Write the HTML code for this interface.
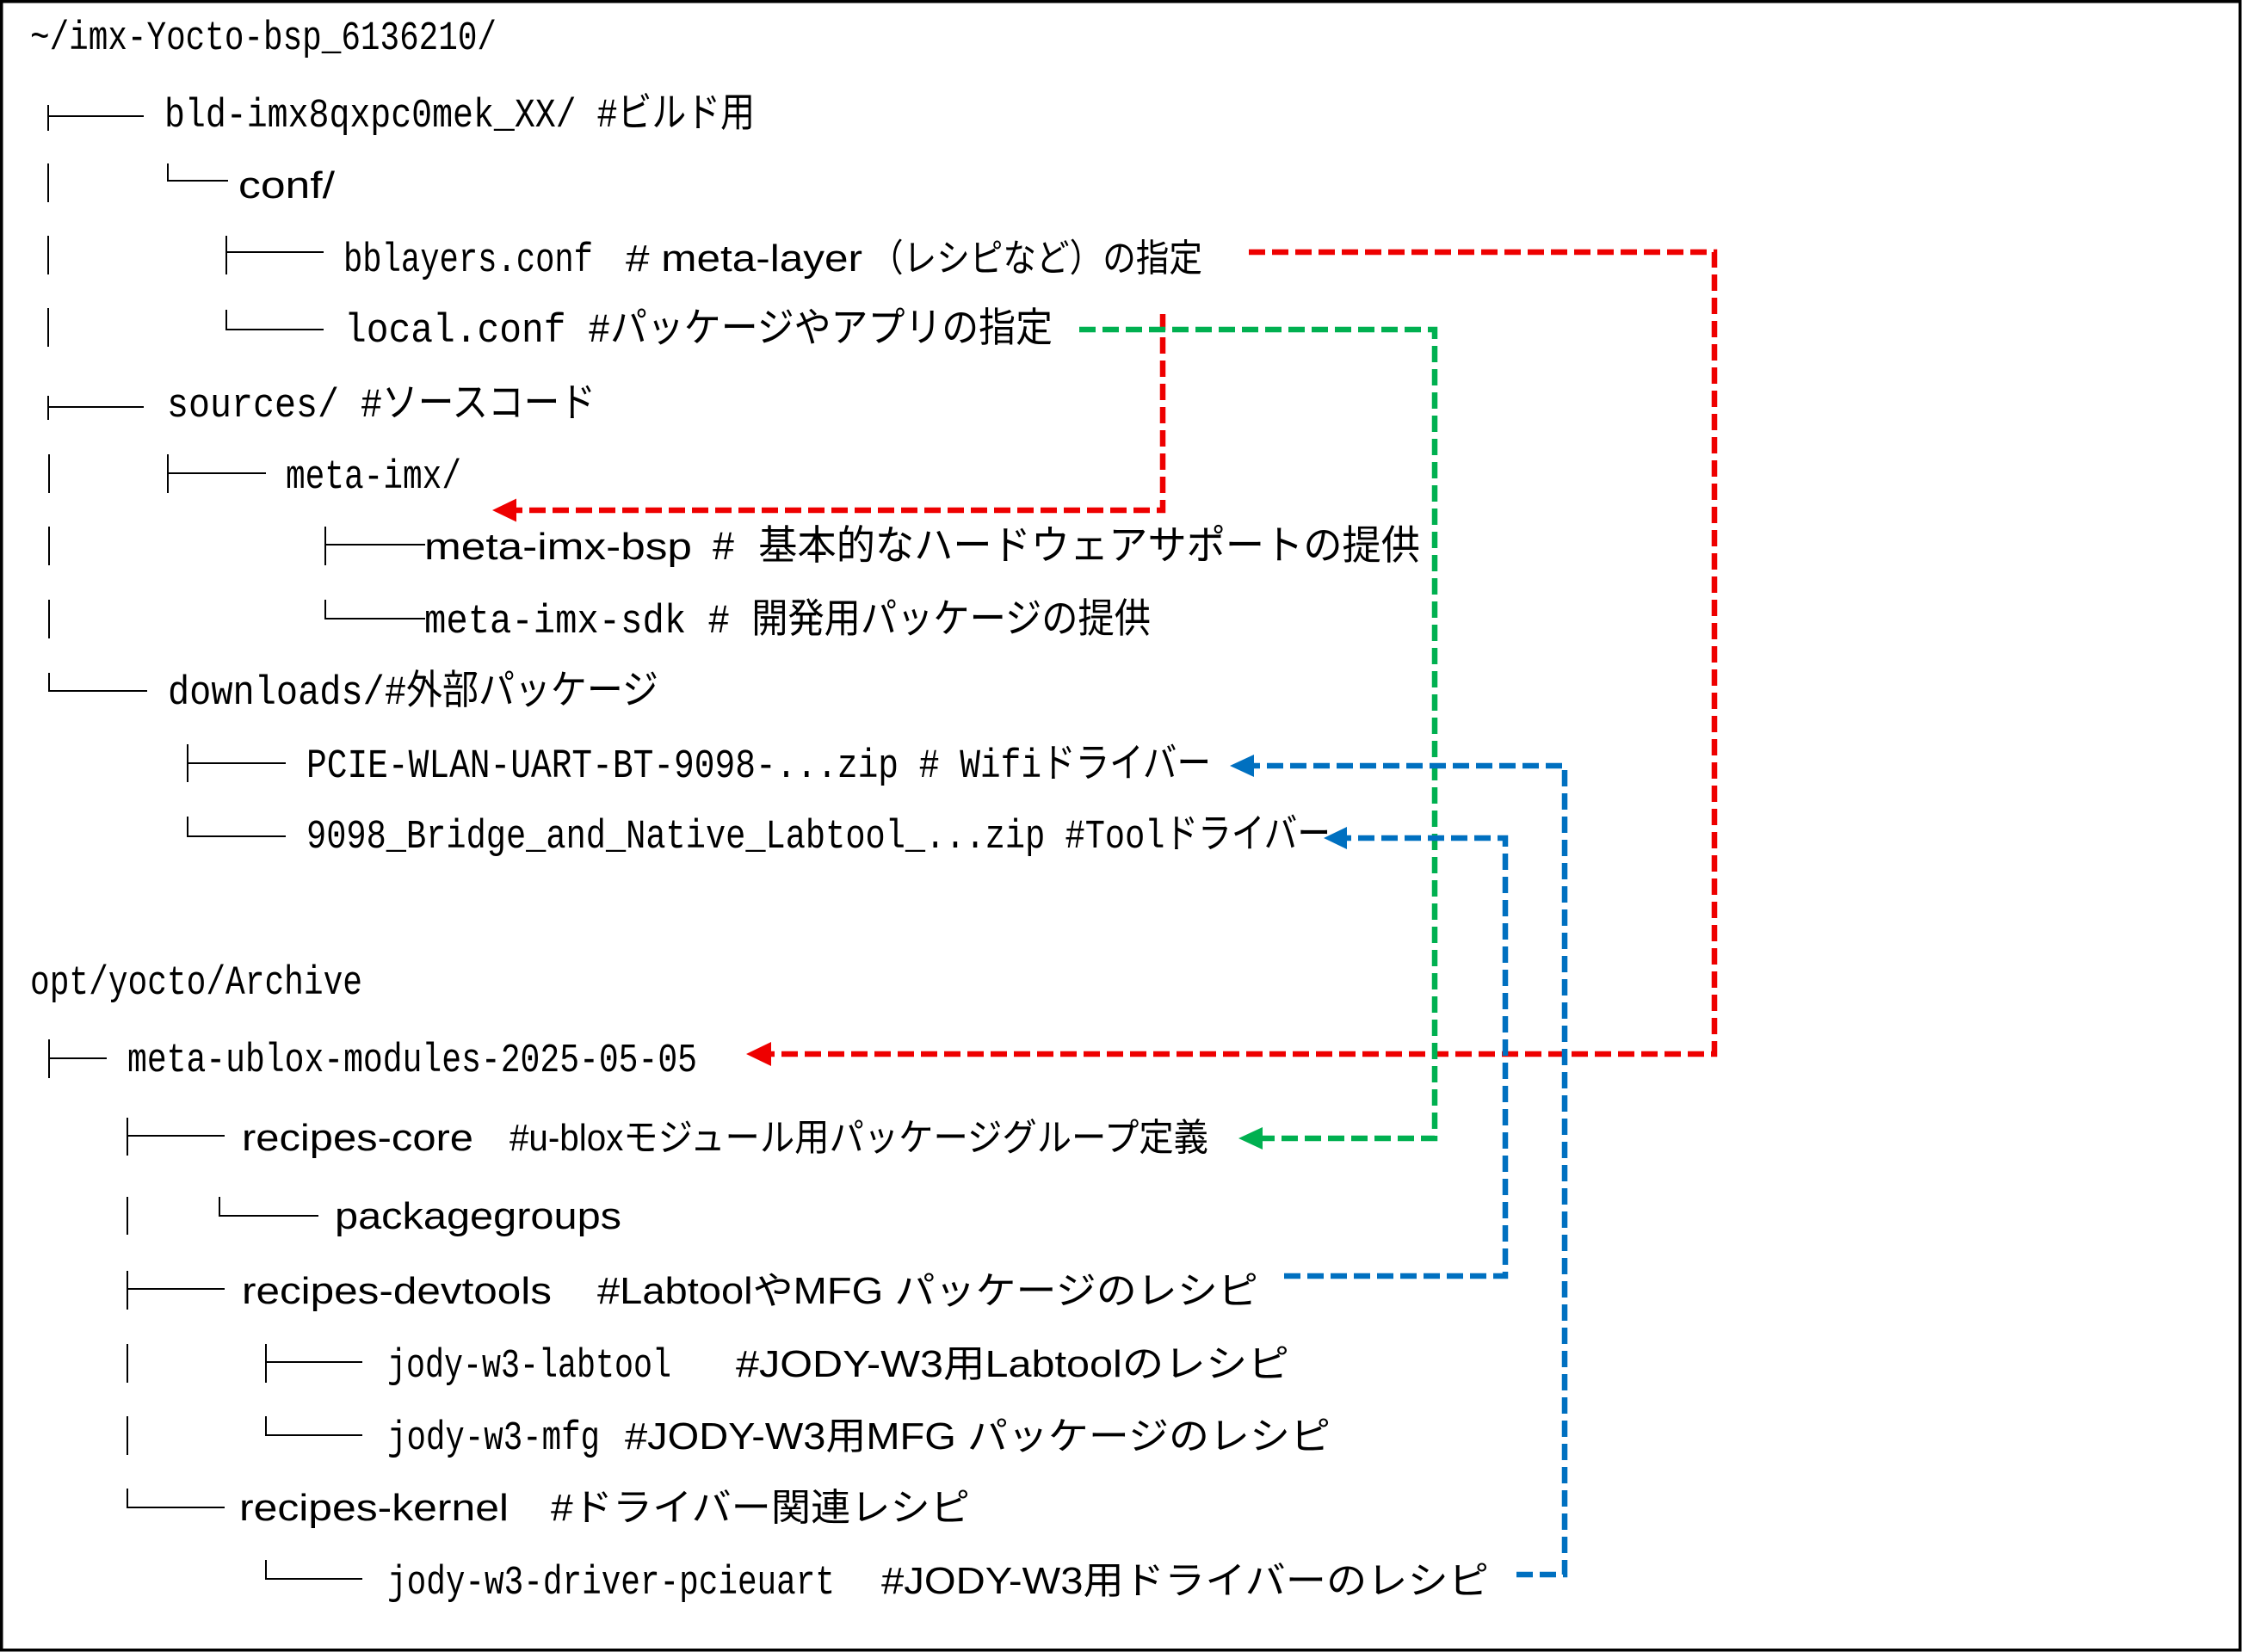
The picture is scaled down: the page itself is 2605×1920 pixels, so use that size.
<!DOCTYPE html>
<html>
<head>
<meta charset="utf-8">
<style>
  html, body { margin: 0; padding: 0; background: #fff; }
  body { width: 2605px; height: 1920px; overflow: hidden; }
  svg { display: block; }
  .m { font-family: "Liberation Mono", "Noto Sans CJK JP", monospace; font-size: 47px; fill: #000; }
  .s { font-family: "Liberation Sans", "Noto Sans CJK JP", sans-serif; font-size: 44px; fill: #000; }
  .t { stroke: #000; stroke-width: 2; fill: none; }
  .r { stroke: #EE0000; stroke-width: 6.5; fill: none; stroke-dasharray: 19 8; }
  .g { stroke: #00B050; stroke-width: 6.5; fill: none; stroke-dasharray: 19 8; }
  .b { stroke: #0070C0; stroke-width: 6.5; fill: none; stroke-dasharray: 19 8; }
</style>
</head>
<body>
<svg width="2605" height="1920" viewBox="0 0 2605 1920" xmlns="http://www.w3.org/2000/svg">
  <rect x="0" y="0" width="2605" height="1920" fill="#fff"/>
  <rect x="1.75" y="1.75" width="2601" height="1916" fill="none" stroke="#000" stroke-width="3.5"/>

  <!-- Tree lines -->
  <g class="t">
    <path d="M56,122 V152 M56,135 H167"/>
    <path d="M56,190 V235 M195,190 V210 H265"/>
    <path d="M56,274 V319 M263,274 V319 M263,293 H376"/>
    <path d="M56,358 V403 M263,360 V383 H376"/>
    <path d="M56,460 V488 M56,473 H167"/>
    <path d="M57,528 V573 M195,528 V573 M195,550 H309"/>
    <path d="M57,612 V657 M378,612 V657 M378,633 H494"/>
    <path d="M57,697 V742 M378,697 V719 H494"/>
    <path d="M57,782 V803 H171"/>
    <path d="M218,865 V909 M218,887 H332"/>
    <path d="M218,949 V972 H332"/>
    <path d="M57,1208 V1253 M57,1230 H124"/>
    <path d="M148,1299 V1343 M148,1320 H261"/>
    <path d="M148,1391 V1435 M255,1391 V1413 H370"/>
    <path d="M148,1477 V1522 M148,1498 H261"/>
    <path d="M148,1562 V1607 M309,1562 V1607 M309,1583 H421"/>
    <path d="M148,1646 V1691 M309,1646 V1668 H421"/>
    <path d="M148,1730 V1752 H261"/>
    <path d="M309,1813 V1835 H421"/>
  </g>

  <!-- Text -->
  <text class="m" x="35" y="57" textLength="542" lengthAdjust="spacingAndGlyphs">~/imx-Yocto-bsp_6136210/</text>
  <text class="m" x="191" y="147" textLength="686" lengthAdjust="spacingAndGlyphs">bld-imx8qxpc0mek_XX/ #ビルド用</text>
  <text class="s" x="277" y="230" textLength="112" lengthAdjust="spacingAndGlyphs">conf/</text>
  <text class="m" x="399" y="315" textLength="290" lengthAdjust="spacingAndGlyphs">bblayers.conf</text>
  <text class="s" x="727" y="315" textLength="275" lengthAdjust="spacingAndGlyphs"># meta-layer</text>
  <text class="s" x="1011" y="315" textLength="386" lengthAdjust="spacingAndGlyphs">（レシピなど）の指定</text>
  <text class="m" x="400" y="397" textLength="823" lengthAdjust="spacingAndGlyphs">local.conf #パッケージやアプリの指定</text>
  <text class="m" x="194" y="484" textLength="498" lengthAdjust="spacingAndGlyphs">sources/ #ソースコード</text>
  <text class="m" x="332" y="567" textLength="204" lengthAdjust="spacingAndGlyphs">meta-imx/</text>
  <text class="s" x="493" y="650" textLength="311" lengthAdjust="spacingAndGlyphs">meta-imx-bsp</text>
  <text class="m" x="827" y="650" textLength="823" lengthAdjust="spacingAndGlyphs"># 基本的なハードウェアサポートの提供</text>
  <text class="m" x="493" y="735" textLength="844" lengthAdjust="spacingAndGlyphs">meta-imx-sdk # 開発用パッケージの提供</text>
  <text class="m" x="195" y="818" textLength="570" lengthAdjust="spacingAndGlyphs">downloads/#外部パッケージ</text>
  <text class="m" x="356" y="903" textLength="1051" lengthAdjust="spacingAndGlyphs">PCIE-WLAN-UART-BT-9098-...zip # Wifiドライバー</text>
  <text class="m" x="356" y="985" textLength="1190" lengthAdjust="spacingAndGlyphs">9098_Bridge_and_Native_Labtool_...zip #Toolドライバー</text>

  <text class="m" x="35" y="1155" textLength="386" lengthAdjust="spacingAndGlyphs">opt/yocto/Archive</text>
  <text class="m" x="148" y="1245" textLength="662" lengthAdjust="spacingAndGlyphs">meta-ublox-modules-2025-05-05</text>
  <text class="s" x="281" y="1337" textLength="269" lengthAdjust="spacingAndGlyphs">recipes-core</text>
  <text class="s" x="592" y="1337" textLength="812" lengthAdjust="spacingAndGlyphs">#u-bloxモジュール用パッケージグループ定義</text>
  <text class="s" x="389" y="1428" textLength="333" lengthAdjust="spacingAndGlyphs">packagegroups</text>
  <text class="s" x="281" y="1515" textLength="360" lengthAdjust="spacingAndGlyphs">recipes-devtools</text>
  <text class="s" x="694" y="1515" textLength="768" lengthAdjust="spacingAndGlyphs">#LabtoolやMFG パッケージのレシピ</text>
  <text class="m" x="450" y="1600" textLength="330" lengthAdjust="spacingAndGlyphs">jody-w3-labtool</text>
  <text class="s" x="855" y="1600" textLength="643" lengthAdjust="spacingAndGlyphs">#JODY-W3用Labtoolのレシピ</text>
  <text class="m" x="450" y="1684" textLength="247" lengthAdjust="spacingAndGlyphs">jody-w3-mfg</text>
  <text class="s" x="726" y="1684" textLength="820" lengthAdjust="spacingAndGlyphs">#JODY-W3用MFG パッケージのレシピ</text>
  <text class="s" x="278" y="1767" textLength="313" lengthAdjust="spacingAndGlyphs">recipes-kernel</text>
  <text class="s" x="640" y="1767" textLength="487" lengthAdjust="spacingAndGlyphs">#ドライバー関連レシピ</text>
  <text class="m" x="450" y="1852" textLength="520" lengthAdjust="spacingAndGlyphs">jody-w3-driver-pcieuart</text>
  <text class="s" x="1024" y="1852" textLength="706" lengthAdjust="spacingAndGlyphs">#JODY-W3用ドライバーのレシピ</text>

  <!-- Connectors -->
  <path class="r" d="M1451,293 H1992 V1225 H895"/>
  <polygon points="867,1225 896,1211 896,1239" fill="#EE0000"/>

  <path class="r" d="M1351,365 V593 H599"/>
  <polygon points="572,593 600,579.5 600,606.5" fill="#EE0000"/>

  <path class="g" d="M1254,383 H1667 V1323 H1466"/>
  <polygon points="1439,1323 1467,1310 1467,1336" fill="#00B050"/>

  <path class="b" d="M1762,1830 H1818 V890 H1456"/>
  <polygon points="1429,890 1457,877 1457,903" fill="#0070C0"/>

  <path class="b" d="M1492,1483 H1749 V974 H1564"/>
  <polygon points="1538,974 1565,961 1565,987" fill="#0070C0"/>
</svg>
</body>
</html>
